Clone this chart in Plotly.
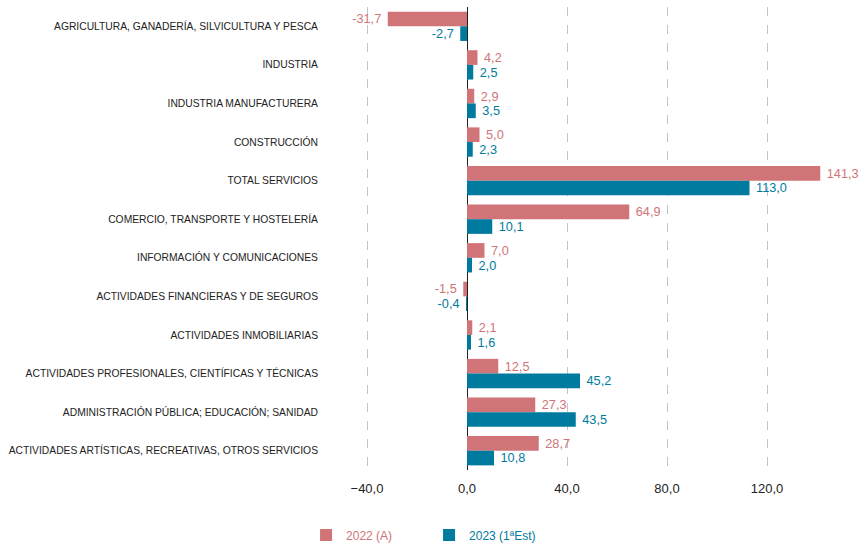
import plotly.graph_objects as go

categories = [
    "AGRICULTURA, GANADERÍA, SILVICULTURA Y PESCA",
    "INDUSTRIA",
    "INDUSTRIA MANUFACTURERA",
    "CONSTRUCCIÓN",
    "TOTAL SERVICIOS",
    "COMERCIO, TRANSPORTE Y HOSTELERÍA",
    "INFORMACIÓN Y COMUNICACIONES",
    "ACTIVIDADES FINANCIERAS Y DE SEGUROS",
    "ACTIVIDADES INMOBILIARIAS",
    "ACTIVIDADES PROFESIONALES, CIENTÍFICAS Y TÉCNICAS",
    "ADMINISTRACIÓN PÚBLICA; EDUCACIÓN; SANIDAD",
    "ACTIVIDADES ARTÍSTICAS, RECREATIVAS, OTROS SERVICIOS",
]
values_2022 = [-31.7, 4.2, 2.9, 5.0, 141.3, 64.9, 7.0, -1.5, 2.1, 12.5, 27.3, 28.7]
values_2023 = [-2.7, 2.5, 3.5, 2.3, 113.0, 10.1, 2.0, -0.4, 1.6, 45.2, 43.5, 10.8]
series_names = ["2022 (A)", "2023 (1ªEst)"]
tick_values = [-40, 0, 40, 80, 120]

c22 = "#d07477"
c23 = "#007a9e"
FONT = "Liberation Sans, Arial, sans-serif"
NB = "\u00a0"


def labels(vals):
    out = []
    for v in vals:
        s = f"{v:.1f}".replace(".", ",")
        out.append(s + NB if v < 0 else NB + s)
    return out


fig = go.Figure()
for name, vals, col in [(series_names[0], values_2022, c22), (series_names[1], values_2023, c23)]:
    fig.add_trace(go.Bar(
        y=categories, x=vals, orientation="h",
        name=f'<span style="color:{col}">{name}</span>',
        marker=dict(color=col, line=dict(width=0)),
        text=labels(vals), texttemplate="%{text}", textposition="outside",
        textfont=dict(color=col, size=13, family=FONT),
        cliponaxis=False,
    ))

fig.update_layout(
    width=864, height=545,
    paper_bgcolor="white", plot_bgcolor="white",
    barmode="group", bargap=0.24, bargroupgap=0.0,
    separators=",.",
    margin=dict(l=330, r=2, t=7, b=75, autoexpand=False),
    font=dict(family=FONT, color="#222"),
    showlegend=True,
    legend=dict(orientation="h", x=-0.045, y=-0.109, xanchor="left", yanchor="top",
                font=dict(size=12, family=FONT), itemsizing="constant",
                traceorder="normal", entrywidth=78),
    xaxis=dict(range=[-54.8, 158], tickvals=tick_values, tickformat=".1f",
               showgrid=True, gridcolor="#c4c4c4", griddash="dash", gridwidth=1,
               zeroline=True, zerolinecolor="#222", zerolinewidth=1.2,
               tickfont=dict(size=13, color="#222"), showline=False, ticks="",
               ticklabelstandoff=9),
    yaxis=dict(autorange="reversed", tickfont=dict(size=10.3, color="#222"),
               ticks="", showgrid=False, ticklabelstandoff=11, automargin=False),
)

fig.write_html(
    "out.html",
    config={"displayModeBar": False},
    post_script="document.body.style.margin='0';document.body.style.overflow='hidden';",
)
